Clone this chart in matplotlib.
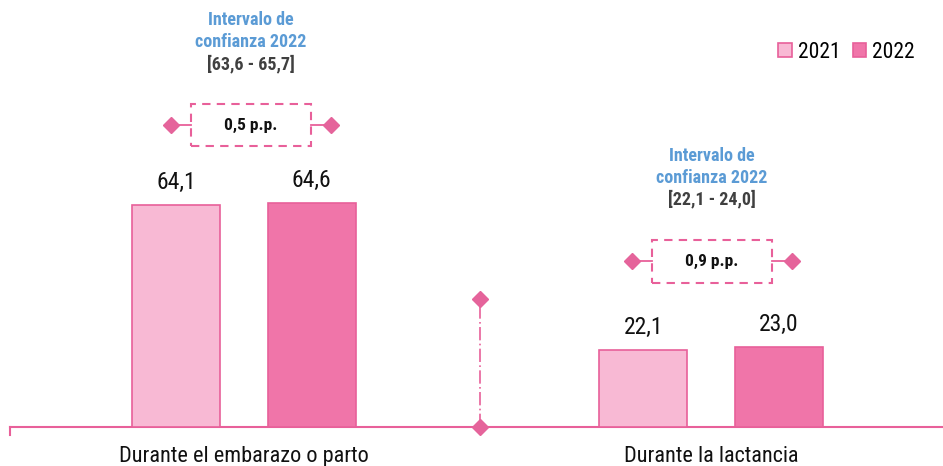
import matplotlib.pyplot as plt
from matplotlib import font_manager
from matplotlib.patches import Rectangle, Patch

# Data
categories = ["Durante el embarazo o parto", "Durante la lactancia"]
years = ["2021", "2022"]
values_2021 = [64.1, 22.1]
values_2022 = [64.6, 23.0]
ci_2022 = ["[63,6 - 65,7]", "[22,1 - 24,0]"]
diff_labels = ["0,5 p.p.", "0,9 p.p."]


def pick_font(candidates, weight):
    have = {}
    for f in font_manager.fontManager.ttflist:
        have.setdefault(f.name, set()).add(f.weight if isinstance(f.weight, int) else 400)
    for name in candidates:
        if name in have and any(abs(w - weight) <= 100 for w in have[name]):
            return name
    return "Liberation Sans"


cands = ["Liberation Sans Narrow", "Arial Narrow", "Roboto Condensed", "Archivo Narrow",
         "Fira Sans Condensed", "Barlow Semi Condensed"]
f_reg = pick_font(cands, 400)
f_bold = pick_font(cands, 700)
plt.rcParams["font.family"] = [f_reg, "DejaVu Sans"]
bold_fam = [f_bold, "DejaVu Sans"]

c_2021 = "#F8B9D4"
c_2022 = "#F075A9"
c_edge = "#E8609A"
c_blue = "#5B9BD5"
c_grey = "#404040"

fig = plt.figure(figsize=(9.43, 4.66), dpi=100)
ax = fig.add_axes([10 / 943, 39 / 466, 933 / 943, 427 / 466])
px = 3.465  # pixels per unit on y
ax.set_ylim(0, 427 / px)
ax.set_xlim(-234 / 467, 699 / 467)

x = list(range(len(categories)))
off = 0.145
w = 0.188
b1 = ax.bar([i - off for i in x], values_2021, w, color=c_2021, edgecolor=c_edge, linewidth=1.2, zorder=3)
b2 = ax.bar([i + off for i in x], values_2022, w, color=c_2022, edgecolor=c_edge, linewidth=1.2, zorder=3)

for bars, vals in ((b1, values_2021), (b2, values_2022)):
    for r, v in zip(bars, vals):
        ax.annotate(f"{v:.1f}".replace(".", ","), (r.get_x() + r.get_width() / 2, v),
                    xytext=(0, 8), textcoords="offset points", ha="center", va="bottom",
                    fontsize=17, color="#111111")

# Confidence interval notes and difference boxes
ci_y = [(117.5, 111.1, 104.8), (78.2, 71.9, 65.8)]
box_y = [(81.1, 93.2), (41.6, 54.0)]
box_cx = [0.015, 1.002]
for i in x:
    cx = box_cx[i]
    y1, y2, y3 = ci_y[i]
    ax.text(cx, y1, "Intervalo de", ha="center", va="center", fontsize=13, fontweight="bold",
            color=c_blue, family=bold_fam)
    ax.text(cx, y2, "confianza 2022", ha="center", va="center", fontsize=13, fontweight="bold",
            color=c_blue, family=bold_fam)
    ax.text(cx, y3, ci_2022[i], ha="center", va="center", fontsize=13, fontweight="bold",
            color=c_grey, family=bold_fam)
    lo, hi = box_y[i]
    ym = (lo + hi) / 2
    hw = 0.128
    ax.add_patch(Rectangle((cx - hw, lo), 2 * hw, hi - lo, fill=False, edgecolor=c_edge,
                           linewidth=1.5, linestyle=(0, (4, 3)), zorder=4))
    ax.text(cx, ym, diff_labels[i], ha="center", va="center", fontsize=12.5, fontweight="bold",
            color="#111111", family=bold_fam)
    ax.plot([cx - 0.172, cx - hw], [ym, ym], color=c_edge, lw=1.3, zorder=4)
    ax.plot([cx + hw, cx + 0.172], [ym, ym], color=c_edge, lw=1.3, zorder=4)
    ax.plot([cx - 0.172, cx + 0.172], [ym, ym], linestyle="none", marker="D", markersize=8,
            color="#E5649B", zorder=5)

# Separator between groups
ax.plot([0.505, 0.505], [0, 36.9], color=c_edge, lw=1.2, linestyle=(0, (8, 2, 1, 2)), zorder=2)
ax.plot([0.505, 0.505], [0, 36.9], linestyle="none", marker="D", markersize=8,
        color="#E5649B", clip_on=False, zorder=6)

# Axes styling
for s in ("top", "right", "left"):
    ax.spines[s].set_visible(False)
ax.spines["bottom"].set_color(c_edge)
ax.spines["bottom"].set_linewidth(1.5)
ax.set_yticks([])
ax.set_xticks(x)
ax.set_xticklabels(categories, fontsize=16, color="#111111")
ax.tick_params(axis="x", length=0, pad=14)
ax.plot([-234 / 467, -234 / 467], [0, -2.2], color=c_edge, lw=1.5, clip_on=False)

handles = [Patch(facecolor=c_2021, edgecolor=c_edge, linewidth=1.2),
           Patch(facecolor=c_2022, edgecolor=c_edge, linewidth=1.2)]
fig.legend(handles, years, loc="upper right", bbox_to_anchor=(915 / 943, 1 - 42 / 466), ncol=2,
           frameon=False, fontsize=15.5, handlelength=0.62, handleheight=0.62,
           handletextpad=0.3, columnspacing=0.55, borderpad=0, borderaxespad=0)

fig.savefig("out.png", dpi=100)
